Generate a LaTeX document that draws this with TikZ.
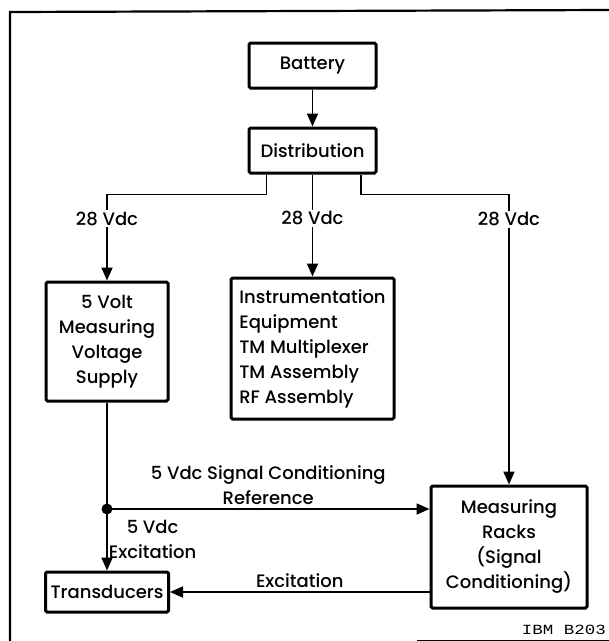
\documentclass[tikz,border=0pt]{standalone}
\usepackage{fontspec}
\setmainfont{Poppins Medium}
\newfontfamily\tagfont{Liberation Mono}[FakeStretch=1.25]
\usetikzlibrary{arrows.meta, positioning}
\tikzset{
	blk/.style ={rectangle, draw=black, line width=3pt, rounded corners=1.5pt, align=center, inner sep=2pt},
	sig/.style ={-{Triangle[length=13pt, width=11pt]}, line width=1.8pt},
	wire/.style={line width=1.8pt},
	lbl/.style ={fill=white, inner sep=1.5pt, align=center},
}

\begin{document}
\begin{tikzpicture}[x=1pt, y=-1pt, font=\fontsize{18}{25}\selectfont]
	\useasboundingbox (0,0) rectangle (609,641);
	% frame
	\draw[line width=2.2pt] (10,641) -- (10,12) -- (609,10);
	\draw[line width=1pt] (417,640) -- (609,640);
	\node[blk, minimum width=127pt, minimum height=45pt] (bat) at (312.5,65.5) {Battery};
	\node[blk, minimum width=127pt, minimum height=45pt] (dist) at (312.5,150.5) {Distribution};
	\node[blk, minimum width=122pt, minimum height=119pt] (sup) at (107,341.5) {5 Volt\\ Measuring\\ Voltage\\ Supply};
	\node[blk, minimum width=163pt, minimum height=141pt, align=left] (instr) at (312.5,348.5) {Instrumentation\\ Equipment\\ TM Multiplexer\\ TM Assembly\\ RF Assembly};
	\node[blk, minimum width=156pt, minimum height=122pt] (racks) at (509,547) {Measuring\\ Racks\\ (Signal\\ Conditioning)};
	\node[blk, minimum width=123pt, minimum height=40pt] (trans) at (107,592) {Transducers};
	\coordinate (jn) at (107,509);
	\draw[sig] (bat) -- (dist);
	\draw[sig] ([xshift=-46pt]dist.south) -- ++(0,20) -| node[lbl, pos=0.64] {28 Vdc} (sup.north);
	\draw[sig] (dist) -- node[lbl, pos=0.43] {28 Vdc} (instr);
	\draw[sig] ([xshift=48.5pt]dist.south) -- ++(0,20) -| node[lbl, pos=0.543] {28 Vdc} (racks.north);
	\draw[wire] (sup) -- (jn);
	\fill (jn) circle (5.5pt);
	\draw[sig] (jn) -- node[above, align=center, inner sep=3pt] {5 Vdc Signal Conditioning\\ Reference} (jn -| racks.west);
	\draw[sig] (jn) -- node[right, align=center, inner sep=1pt] {5 Vdc\\ Excitation} (trans);
	\draw[sig] (racks.west |- trans) -- node[above] {Excitation} (trans);
	\node[anchor=east, inner sep=0pt, font=\tagfont\fontsize{14}{16}\selectfont] (tag) at (606,630) {IBM B203};
\end{tikzpicture}
\end{document}
